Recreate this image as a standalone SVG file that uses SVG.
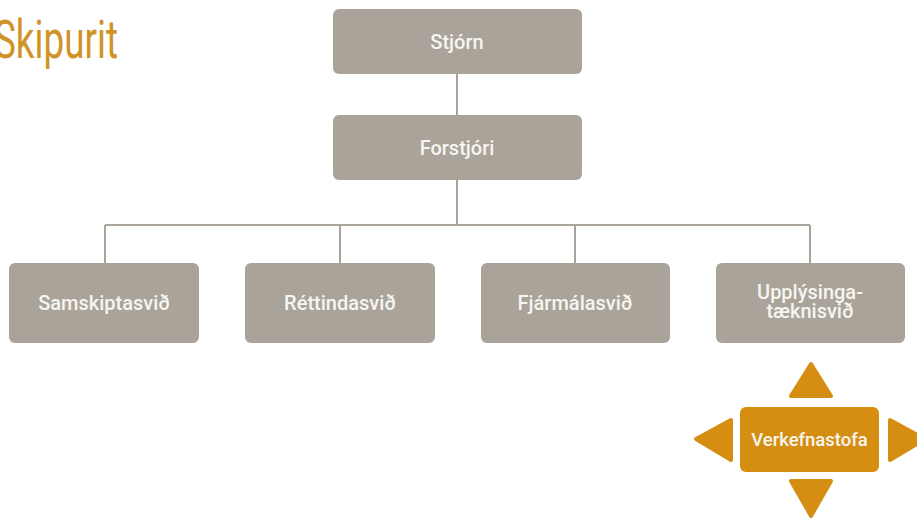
<svg xmlns="http://www.w3.org/2000/svg" width="917" height="519" viewBox="0 0 917 519">
<style>
.box{fill:#a9a399}
.gold{fill:#d68e12}
.lbl{font-family:Roboto,"Liberation Sans",sans-serif;font-size:20px;font-weight:500;fill:#f7f5f0;text-anchor:middle}
.conn{stroke:#a9a399;stroke-width:2;fill:none}
</style>
<rect width="917" height="519" fill="#ffffff"/>
<text x="-6" y="58" font-family="Roboto,'Liberation Sans',sans-serif" font-size="54" font-weight="400" fill="#cf932a" textLength="124" lengthAdjust="spacingAndGlyphs">Skipurit</text>
<g id="connectors">
<path class="conn" d="M457 74V115M457 180V225M105 225H810M105 225V263M340 225V263M575 225V263M810 225V263"/>
</g>
<g id="stjorn"><rect class="box" x="333" y="9" width="249" height="65" rx="6"/><text class="lbl" x="457" y="49">Stjórn</text></g>
<g id="forstjori"><rect class="box" x="333" y="115" width="249" height="65" rx="6"/><text class="lbl" x="457" y="155">Forstjóri</text></g>
<g id="samskiptasvid"><rect class="box" x="9" y="263" width="190" height="80" rx="6"/><text class="lbl" x="104" y="310">Samskiptasvið</text></g>
<g id="rettindasvid"><rect class="box" x="245" y="263" width="190" height="80" rx="6"/><text class="lbl" x="340" y="310">Réttindasvið</text></g>
<g id="fjarmalasvid"><rect class="box" x="481" y="263" width="189" height="80" rx="6"/><text class="lbl" x="575" y="310">Fjármálasvið</text></g>
<g id="upplysingataeknisvid"><rect class="box" x="716" y="263" width="189" height="80" rx="6"/><text class="lbl" x="810" y="299">Upplýsinga-</text><text class="lbl" x="810" y="318">tæknisvið</text></g>
<g id="verkefnastofa">
<rect class="gold" x="740" y="407" width="139" height="65" rx="6"/>
<text class="lbl" x="809.5" y="446" style="font-size:18.5px">Verkefnastofa</text>
<path class="gold" stroke="#d68e12" stroke-width="4" stroke-linejoin="round" d="M811 364L831 396H791Z"/>
<path class="gold" stroke="#d68e12" stroke-width="4" stroke-linejoin="round" d="M791 481H831L811 516Z"/>
<path class="gold" stroke="#d68e12" stroke-width="4" stroke-linejoin="round" d="M696 439L731 420V460Z"/>
<path class="gold" stroke="#d68e12" stroke-width="4" stroke-linejoin="round" d="M890 420L925 439L890 460Z"/>
</g>
</svg>
